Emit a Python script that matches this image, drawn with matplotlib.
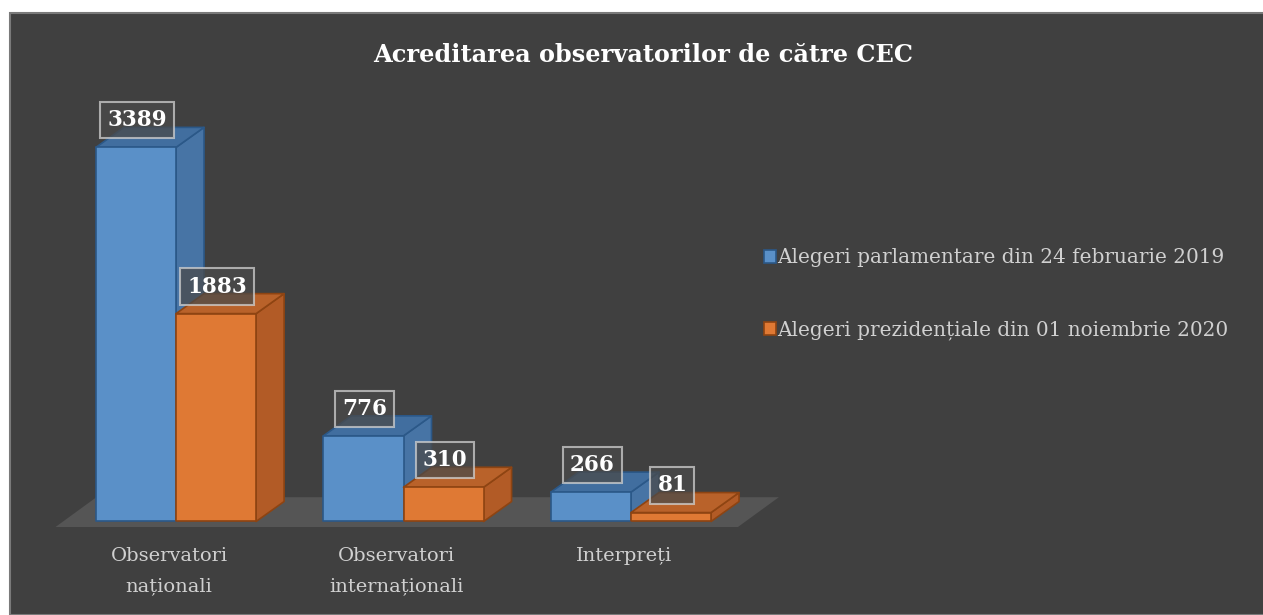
import matplotlib
matplotlib.use("Agg")
import matplotlib.pyplot as plt
from matplotlib.patches import Rectangle, Polygon

# data
categories = ["Observatori\nnaționali", "Observatori\ninternaționali", "Interpreți"]
series_names = ["Alegeri parlamentare din 24 februarie 2019",
                "Alegeri prezidențiale din 01 noiembrie 2020"]
parlamentare_2019 = [3389, 776, 266]
prezidentiale_2020 = [1883, 310, 81]
title = "Acreditarea observatorilor de către CEC"

# styling
W, H = 1263, 615
BG = "#404040"
FONT = "DejaVu Serif"
face = {"blue": ("#5A90C8", "#4774A5", "#416E9F", "#2B5888"),
        "orange": ("#DF7934", "#B25B26", "#B9622A", "#8E4412")}
bar_w = 0.352
dx, dy = 0.123, 181      # 3d depth of the bars (x units, value units)
fdx, fdy = 0.18, 270     # depth of the floor

fig = plt.figure(figsize=(W / 100, H / 100), dpi=100, facecolor="white")
fig.patches.append(Rectangle((10 / W, 0), 1, 1 - 13 / H, transform=fig.transFigure,
                             facecolor=BG, edgecolor="#7a7a7a", linewidth=1.5,
                             zorder=-5))

ax = fig.add_axes([40 / W, 85 / H, 760 / W, 430 / H])
ax.set_zorder(2)
ax.set_facecolor("none")
ax.set_xlim(-0.598, 2.743)
ax.set_ylim(-77, 3818)
for s in ax.spines.values():
    s.set_visible(False)
ax.set_yticks([])

# floor
fl, fr, fb = -0.53, 2.47, -50
ax.add_patch(Polygon([(fl, fb), (fr, fb), (fr + fdx, fb + fdy), (fl + fdx, fb + fdy)],
                     closed=True, facecolor="#555555", edgecolor="none", zorder=1))


def bar3d(x0, v, colors, label=None):
    front, side, top, edge = colors
    kw = dict(edgecolor=edge, linewidth=1.2, joinstyle="round")
    ax.add_patch(Polygon([(x0 + bar_w, 0), (x0 + bar_w + dx, dy),
                          (x0 + bar_w + dx, v + dy), (x0 + bar_w, v)],
                         facecolor=side, zorder=2, **kw))
    ax.add_patch(Polygon([(x0, v), (x0 + bar_w, v), (x0 + bar_w + dx, v + dy),
                          (x0 + dx, v + dy)], facecolor=top, zorder=2, **kw))
    r = Rectangle((x0, 0), bar_w, v, facecolor=front, zorder=2, label=label, **kw)
    ax.add_patch(r)
    ax.annotate(f"{v}", (x0 + bar_w / 2, v), xytext=(1, 19.5),
                textcoords="offset points", ha="center", va="center",
                color="white", fontsize=15.5, fontweight="bold", family=FONT,
                zorder=5,
                bbox=dict(boxstyle="square,pad=0.33", facecolor="#4a4a4a",
                          alpha=0.75, edgecolor="#d0d0d0", linewidth=1.5))
    return r


handles = []
for i in range(len(categories)):
    hb = bar3d(i - bar_w, parlamentare_2019[i], face["blue"], series_names[0])
    ho = bar3d(i, prezidentiale_2020[i], face["orange"], series_names[1])
    if i == 0:
        handles = [hb, ho]

ax.set_xticks([i - 0.03 for i in range(len(categories))])
ax.set_xticklabels(categories, fontsize=14, family=FONT, color="#d0d0d0",
                   linespacing=1.9)
ax.tick_params(axis="x", length=0, pad=12)

fig.text(643 / W, 1 - 55 / H, title, ha="center", va="center", color="white",
         fontsize=17.3, fontweight="bold", family=FONT)

leg = fig.legend(handles=handles, loc="center left",
                 bbox_to_anchor=(746 / W, 1 - 294 / H), frameon=False,
                 prop={"family": FONT, "size": 14.4}, labelcolor="#d0d0d0",
                 handlelength=0.6, handleheight=0.6, handletextpad=0.05,
                 labelspacing=2.65)

fig.savefig("out.png", dpi=100, facecolor=fig.get_facecolor())
